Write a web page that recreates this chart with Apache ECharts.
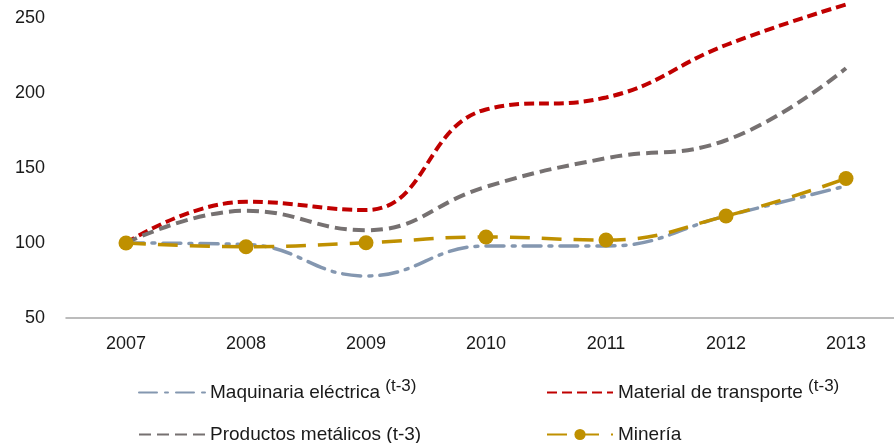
<!DOCTYPE html>
<html>
<head>
<meta charset="utf-8">
<script src="https://cdn.jsdelivr.net/npm/echarts@6/dist/echarts.min.js"></script>
<style>
  html, body { margin: 0; padding: 0; background: #fff; }
  #chart { width: 894px; height: 443px; }
</style>
</head>
<body>
<div id="chart"></div>
<script>
// datos
const years = ['2007', '2008', '2009', '2010', '2011', '2012', '2013'];
const maquinaria = [100, 99, 78, 98, 98, 118, 138];
const transporte = [100, 127.5, 122, 189, 197, 232, 259];
const metalicos = [100, 121.5, 108.5, 137.5, 156.5, 168.5, 216.5];
const mineria = [100, 97.5, 100.2, 104, 102, 118, 143];
const nombres = ['Maquinaria eléctrica', 'Material de transporte', 'Productos metálicos (t-3)', 'Minería'];

const fuente = 'Liberation Sans';
const txt = '#1a1a1a';

// superíndice (t-3) en las dos primeras leyendas
function fmtLeyenda(name) {
  if (name === nombres[0] || name === nombres[1]) {
    return '{n|' + name + '} {s|(t-3)}';
  }
  return '{n|' + name + '}';
}
const richLeyenda = {
  n: { fontFamily: fuente, fontSize: 19, color: txt },
  s: { fontFamily: fuente, fontSize: 17, color: txt, padding: [0, 0, 12, 0] }
};

function leyenda(name, left, top, conMarca) {
  return {
    data: [name],
    left: left,
    top: top,
    itemWidth: 66,
    itemHeight: 14,
    itemGap: 10,
    formatter: fmtLeyenda,
    itemStyle: conMarca ? {} : { opacity: 0 },
    textStyle: { rich: richLeyenda, fontFamily: fuente, fontSize: 19, color: txt },
    selectedMode: false
  };
}

let myChart = echarts.init(document.getElementById('chart'));
myChart.setOption({
  animation: false,
  grid: { left: 66, width: 840, top: 18, bottom: 125, outerBoundsMode: 'none' },
  legend: [
    leyenda(nombres[0], 133, 373, false),
    leyenda(nombres[1], 541, 373, false),
    leyenda(nombres[2], 133, 420, false),
    leyenda(nombres[3], 541, 420, true)
  ],
  xAxis: {
    type: 'category',
    data: years,
    boundaryGap: true,
    axisLine: { lineStyle: { color: '#a6a6a6', width: 1.5 } },
    axisTick: { show: false },
    axisLabel: { color: txt, fontFamily: fuente, fontSize: 18, margin: 17 }
  },
  yAxis: {
    type: 'value',
    min: 50,
    max: 250,
    interval: 50,
    axisLine: { show: false },
    axisTick: { show: false },
    splitLine: { show: false },
    axisLabel: { color: txt, fontFamily: fuente, fontSize: 18, margin: 21 }
  },
  series: [
    {
      name: nombres[0],
      type: 'line',
      data: maquinaria,
      smooth: 0.45,
      clip: false,
      symbol: 'none',
      lineStyle: { color: '#8497b0', width: 3.5, type: [18, 8, 3, 8], cap: 'round' },
      itemStyle: { color: '#8497b0' }
    },
    {
      name: nombres[1],
      type: 'line',
      data: transporte,
      smooth: 0.45,
      clip: false,
      symbol: 'none',
      lineStyle: { color: '#c00000', width: 4, type: [10, 5] },
      itemStyle: { color: '#c00000' }
    },
    {
      name: nombres[2],
      type: 'line',
      data: metalicos,
      smooth: 0.45,
      clip: false,
      symbol: 'none',
      lineStyle: { color: '#767171', width: 4, type: [12, 6] },
      itemStyle: { color: '#767171' }
    },
    {
      name: nombres[3],
      type: 'line',
      data: mineria,
      smooth: 0.45,
      clip: false,
      symbol: 'circle',
      symbolSize: 15,
      lineStyle: { color: '#bf9000', width: 3.5, type: [20, 12] },
      itemStyle: { color: '#bf9000' }
    }
  ]
});
</script>
</body>
</html>
